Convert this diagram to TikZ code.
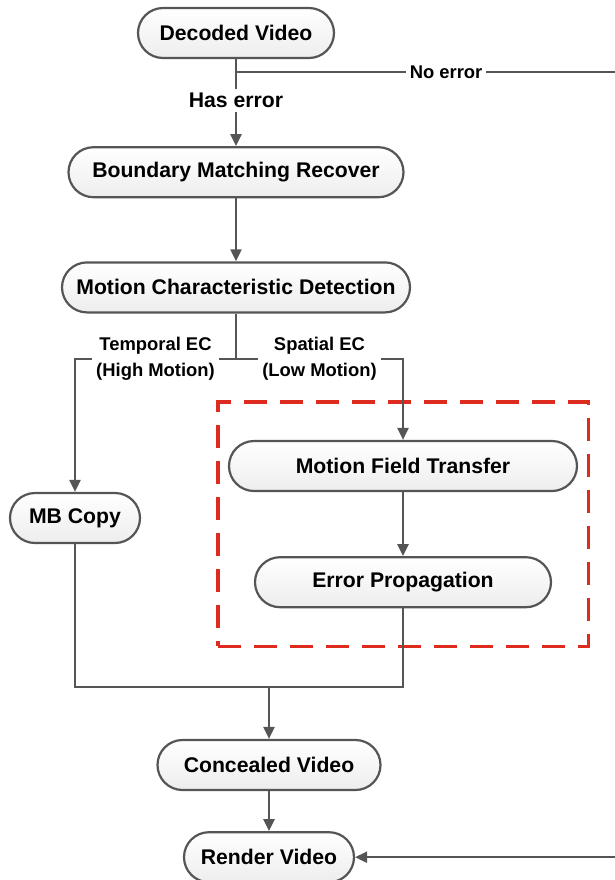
\documentclass[tikz,border=0pt]{standalone}
\usepackage{fontspec}
\setmainfont{Liberation Sans}
\usetikzlibrary{positioning,arrows.meta,fit}

\definecolor{linegray}{HTML}{555555}
\definecolor{ecred}{HTML}{DD2C1F}

\tikzset{
    stage/.style={draw=linegray, line width=1.1pt, rounded corners=12.5pt,
        top color=white, bottom color=gray!14, minimum height=25pt, inner sep=0pt,
        font=\bfseries\fontsize{10.6}{12}\selectfont},
    flow/.style={draw=linegray, line width=1.1pt, -{Triangle[length=6pt,width=5.5pt]}},
    link/.style={draw=linegray, line width=1.1pt},
    branch/.style={fill=white, align=center, inner sep=2pt,
        font=\bfseries\fontsize{9.2}{13}\selectfont},
    decision/.style={fill=white, inner sep=2pt, font=\bfseries\fontsize{10.6}{12}\selectfont},
    ecbox/.style={draw=ecred, line width=1.6pt, dash pattern=on 11.5pt off 6.5pt}
}

\begin{document}
\begin{tikzpicture}[x=0.5pt, y=-0.5pt]
    \useasboundingbox (0,0) rectangle (615,880);

    % stages
    \node[stage, minimum width=98pt] (dec) at (236,33) {Decoded Video};
    \node[stage, minimum width=167.5pt, below=43.5pt of dec] (bmr) {Boundary Matching Recover};
    \node[stage, minimum width=174pt, below=31.5pt of bmr] (mcd) {Motion Characteristic Detection};
    \node[stage, minimum width=65pt] (mbc) at (75,518) {MB Copy};
    \node[stage, minimum width=174pt] (mft) at (403,466) {Motion Field Transfer};
    \node[stage, minimum width=148pt, below=32pt of mft] (ep) {Error Propagation};
    \node[stage, minimum width=111.5pt] (conc) at (269,765) {Concealed Video};
    \node[stage, minimum width=85pt, below=20pt of conc] (rend) {Render Video};

    % spatial EC part
    \node[ecbox, fit=(mft)(ep), inner xsep=5pt, inner ysep=19pt] (spec) {};

    \coordinate (split) at (dec.south |- 0,72);
    \coordinate (bypass) at (640,72);
    \coordinate (fork) at (mcd.south |- 0,359);
    \coordinate (join) at (mbc.south |- 0,687);

    \draw[link] (dec) -- (split);
    \draw[flow] (split) -- node[decision, pos=0.38] {Has error} (bmr);
    \draw[flow] (split) -- node[branch, pos=0.52] {No error} (bypass) |- (rend);
    \draw[flow] (bmr) -- (mcd);
    \draw[link] (mcd) -- (fork);
    \draw[flow] (fork) -- node[branch] {Temporal EC\\(High Motion)} (fork -| mbc) -- (mbc);
    \draw[flow] (fork) -- node[branch] {Spatial EC\\(Low Motion)} (fork -| mft) -- (mft);
    \draw[flow] (mft) -- (ep);
    \draw[link] (mbc) -- (join) -| (ep);
    \draw[flow] (conc |- join) -- (conc);
    \draw[flow] (conc) -- (rend);
\end{tikzpicture}
\end{document}
